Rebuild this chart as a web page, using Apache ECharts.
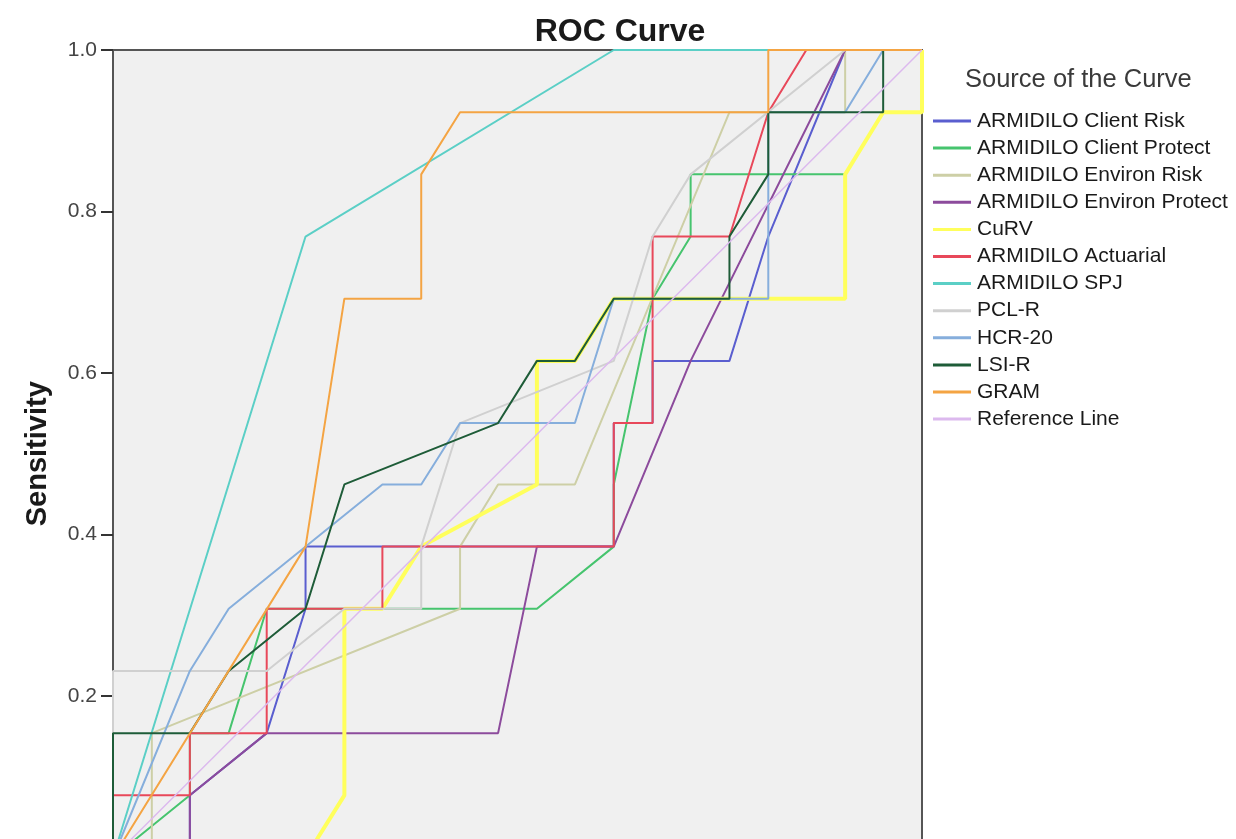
<!DOCTYPE html>
<html>
<head>
<meta charset="utf-8">
<script src="https://cdn.jsdelivr.net/npm/echarts@6/dist/echarts.min.js"></script>
<style>
html,body{margin:0;padding:0;background:#fff;overflow:hidden;}
#chart{width:1236px;height:900px;}
</style>
</head>
<body>
<div id="chart"></div>
<script>
// Source of the curve names (legend order)
const curveNames = ['ARMIDILO Client Risk','ARMIDILO Client Protect','ARMIDILO Environ Risk','ARMIDILO Environ Protect','CuRV','ARMIDILO Actuarial','ARMIDILO SPJ','PCL-R','HCR-20','LSI-R','GRAM','Reference Line'];
const yTickLabels = ['0.0','0.2','0.4','0.6','0.8','1.0'];

// [1 - Specificity, Sensitivity] points
const clientRisk = [[0,0],[.095,0],[.095,.077],[.190,.154],[.238,.308],[.238,.385],[.333,.385],[.619,.385],[.619,.538],[.667,.538],[.667,.615],[.762,.615],[.810,.769],[.905,1],[1,1]];
const clientProtect = [[0,0],[.095,.077],[.095,.154],[.143,.154],[.190,.308],[.524,.308],[.619,.385],[.619,.462],[.667,.692],[.714,.769],[.714,.846],[.905,.846],[.952,.923],[1,.923],[1,1]];
const environRisk = [[0,0],[.048,0],[.048,.154],[.429,.308],[.429,.385],[.476,.462],[.571,.462],[.762,.923],[.905,.923],[.905,1],[1,1]];
const environProtect = [[0,0],[.095,0],[.095,.077],[.190,.154],[.476,.154],[.524,.385],[.619,.385],[.714,.615],[.905,1],[1,1]];
const curv = [[0,0],[.238,0],[.286,.077],[.286,.308],[.333,.308],[.381,.385],[.524,.462],[.524,.615],[.571,.615],[.619,.692],[.905,.692],[.905,.846],[.952,.923],[1,.923],[1,1]];
const actuarial = [[0,0],[0,.077],[.095,.077],[.095,.154],[.190,.154],[.190,.308],[.333,.308],[.333,.385],[.619,.385],[.619,.538],[.667,.538],[.667,.769],[.762,.769],[.810,.923],[.857,1],[1,1]];
const spj = [[0,0],[.238,.769],[.619,1],[1,1]];
const pclr = [[0,0],[0,.231],[.190,.231],[.286,.308],[.381,.308],[.381,.385],[.429,.538],[.619,.615],[.667,.769],[.714,.846],[.905,1],[1,1]];
const hcr20 = [[0,0],[.095,.231],[.143,.308],[.333,.462],[.381,.462],[.429,.538],[.571,.538],[.619,.692],[.810,.692],[.810,.846],[.810,.923],[.905,.923],[.952,1],[1,1]];
const lsir = [[0,0],[0,.154],[.095,.154],[.143,.231],[.238,.308],[.286,.462],[.476,.538],[.524,.615],[.571,.615],[.619,.692],[.762,.692],[.762,.769],[.810,.846],[.810,.923],[.952,.923],[.952,1],[1,1]];
const gram = [[0,0],[.238,.385],[.286,.692],[.381,.692],[.381,.846],[.429,.923],[.810,.923],[.810,1],[1,1]];
const referenceLine = [[0,0],[1,1]];

const curveData = [clientRisk, clientProtect, environRisk, environProtect, curv, actuarial, spj, pclr, hcr20, lsir, gram, referenceLine];
const curveColors = ['#5a5ecf','#46c46e','#cdcfa6','#8c4b9c','#ffff5c','#e8485a','#5bcfc6','#d0d0d0','#86aedc','#1e5c38','#f4a443','#dcb9ee'];
const curveWidths = [2,2,2,2,4,2,2,2,2,2,2,1.5];

const FONT = 'Liberation Sans, Arial, sans-serif';
const chart = echarts.init(document.getElementById('chart'));
chart.setOption({
  animation: false,
  backgroundColor: '#ffffff',
  title: [
    {text: 'ROC Curve', left: 615, top: 11, textAlign: 'center',
     textStyle: {fontFamily: FONT, fontSize: 32, fontWeight: 'bold', color: '#1a1a1a'}},
    {text: 'Source of the Curve', left: 965, top: 67, padding: 0,
     textStyle: {fontFamily: FONT, fontSize: 25.5, fontWeight: 'normal', color: '#3a3a3a'}}
  ],
  legend: {
    orient: 'vertical', left: 933, top: 110, padding: 0,
    itemWidth: 38, itemHeight: 3, itemGap: 5.1, icon: 'rect',
    data: curveNames,
    textStyle: {fontFamily: FONT, fontSize: 21, color: '#1a1a1a', lineHeight: 22, padding: [0, 0, 0, 1]}
  },
  grid: {left: 113, top: 50, width: 809, height: 807.5, show: true,
    backgroundColor: '#f0f0f0', borderColor: '#555', borderWidth: 2},
  xAxis: {type: 'value', min: 0, max: 1, interval: 0.2,
    axisLine: {show: false}, axisTick: {show: false}, axisLabel: {show: false}, splitLine: {show: false}},
  yAxis: {type: 'value', min: 0, max: 1, interval: 0.2,
    name: 'Sensitivity', nameLocation: 'middle', nameGap: 61,
    nameTextStyle: {fontFamily: FONT, fontSize: 29, fontWeight: 'bold', color: '#1a1a1a'},
    axisLine: {show: true, lineStyle: {color: '#555', width: 2}},
    axisTick: {show: true, inside: false, length: 12, lineStyle: {color: '#333', width: 2}},
    axisLabel: {margin: 16, fontFamily: FONT, fontSize: 21, color: '#444',
      formatter: function (v) { return yTickLabels[Math.round(v * 5)]; }},
    splitLine: {show: false}},
  series: curveNames.map(function (n, i) {
    return {name: n, type: 'line', data: curveData[i], symbol: 'none', clip: true,
      color: curveColors[i], lineStyle: {color: curveColors[i], width: curveWidths[i]}};
  })
});
</script>
</body>
</html>
